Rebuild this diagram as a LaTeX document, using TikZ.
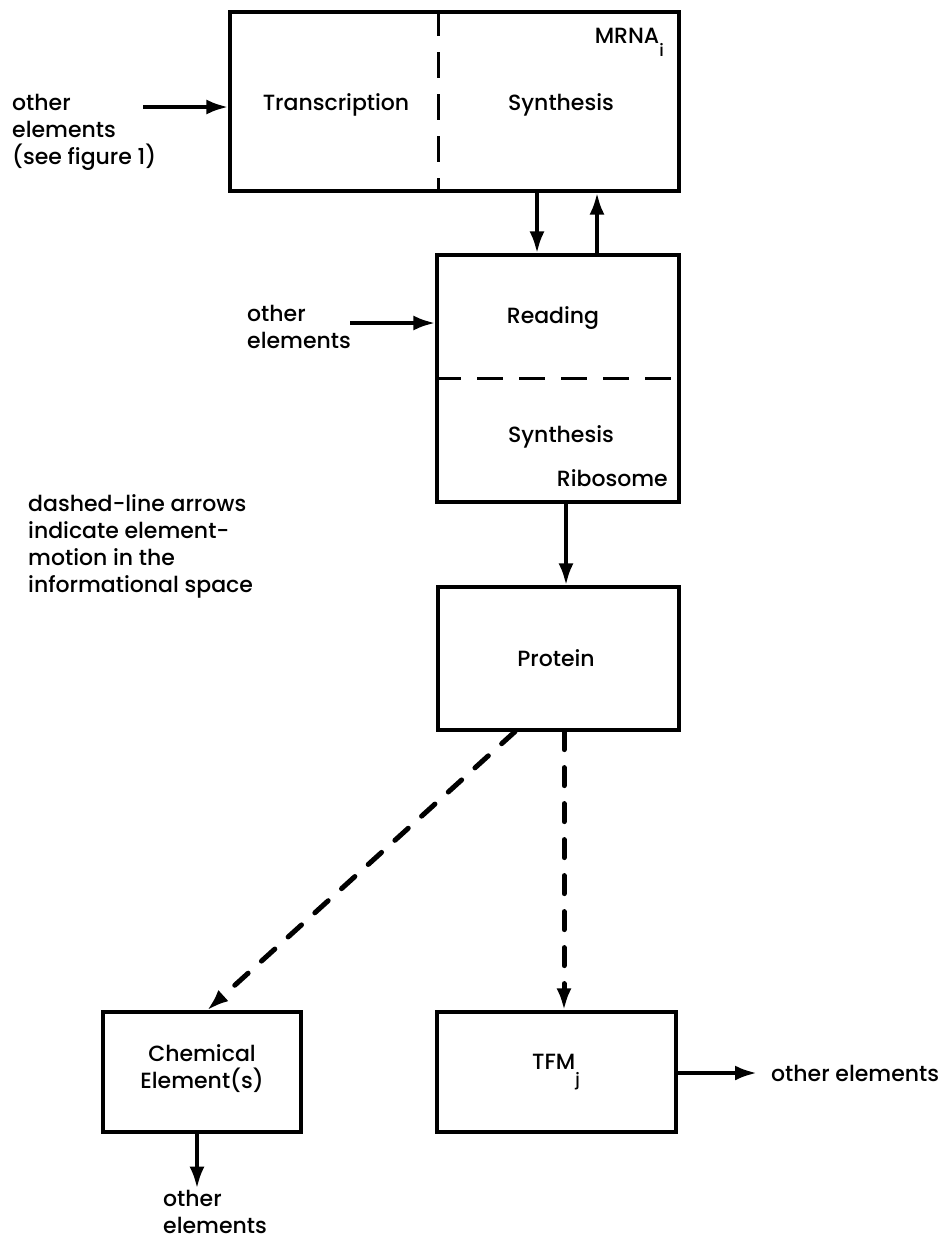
\documentclass[tikz,border=0pt]{standalone}
\usepackage{fontspec}
\setmainfont{Poppins}[UprightFont={* Medium}]
\usetikzlibrary{arrows.meta,calc}
\begin{document}
\begin{tikzpicture}[x=1pt,y=-1pt,
  box/.style={draw, line width=3.2pt, inner sep=0pt},
  lbl/.style={inner sep=0pt, font=\fontsize{22}{27}\selectfont},
  txt/.style={lbl, align=left},
  arr/.style={line width=4pt, -{Latex[length=22pt,width=15pt]}},
  darr/.style={line width=5pt, line cap=round, dash pattern=on 18pt off 18pt,
               -{Latex[length=22pt,width=15pt]}},
  divider/.style={line width=3pt, dash pattern=on 26pt off 16pt},
]
\useasboundingbox (0,0) rectangle (951,1243);

% boxes
\node[box, minimum width=449pt, minimum height=179pt] (top)  at (454.5,101.5) {};
\node[box, minimum width=242pt, minimum height=247pt] (read) at (558,378.5) {};
\node[box, minimum width=241pt, minimum height=143pt] (prot) at (558.5,658.5) {};
\node[box, minimum width=198pt, minimum height=120pt] (chem) at (202,1072) {};
\node[box, minimum width=239pt, minimum height=120pt] (tfm)  at (556.5,1072) {};

% dashed partitions
\coordinate (vd) at (438,0);
\draw[divider] (vd |- top.north) -- (vd |- top.south);
\draw[divider] (read.west) -- (read.east);

% box texts
\node[lbl] (trans) at (336,105) {Transcription};
\node[lbl] (synA)  at (561,105) {Synthesis};
\node[lbl, anchor=east] (mrna) at (664,42) {MRNA\raisebox{-0.6em}{\fontsize{17}{17}\selectfont i}};
\node[lbl] (readt) at (553,318) {Reading};
\node[lbl] (synB)  at (561,437) {Synthesis};
\node[lbl, anchor=east] (ribo) at (668,478) {Ribosome};
\node[lbl] (prott) at (556,658) {Protein};
\node[lbl, align=center] (chemt) at (202,1069) {Chemical\\Element(s)};
\node[lbl] (tfmt)  at (556,1072) {TFM\raisebox{-0.75em}{\fontsize{17}{17}\selectfont j}};

% outside labels
\node[txt, anchor=north west] (in1) at (12,94) {other\\elements\\(see figure 1)};
\node[txt, anchor=north west] (in2) at (247,305) {other\\elements};
\node[txt, anchor=north west] (legend) at (28,494) {dashed-line arrows\\indicate element-\\motion in the\\informational space};
\node[lbl, anchor=west] (out1) at (771,1073) {other elements};
\node[txt, anchor=north west] (out2) at (163,1190) {other\\elements};

% solid connectors
\coordinate (s1) at (143,107);
\draw[arr] (s1) -- (s1 -| top.west);
\coordinate (s2) at (350,323);
\draw[arr] (s2) -- (s2 -| read.west);
\coordinate (d1) at ($(read.north)+(-21,0)$);
\draw[arr] (d1 |- top.south) -- (d1);
\coordinate (u1) at ($(read.north)+(39,0)$);
\draw[arr] (u1) -- (u1 |- top.south);
\coordinate (d2) at ($(read.south)+(8,0)$);
\draw[arr] (d2) -- (d2 |- prot.north);
\coordinate (e1) at (tfm.east);
\coordinate (e2) at (757,1073);
\draw[arr] (e1 |- e2) -- (e2);
\coordinate (c1) at ($(chem.south)+(-5,0)$);
\coordinate (c2) at ($(chem.south)+(-5,55)$);
\draw[arr] (c1) -- (c2);

% dashed connectors (element motion)
\coordinate (p1) at ($(prot.south)+(-43.5,0)$);
\coordinate (p2) at ($(chem.north)+(5,0)$);
\draw[darr] (p1) -- (p2);
\coordinate (p3) at ($(prot.south)+(5.5,0)$);
\draw[darr] (p3) -- (p3 |- tfm.north);
\end{tikzpicture}
\end{document}
